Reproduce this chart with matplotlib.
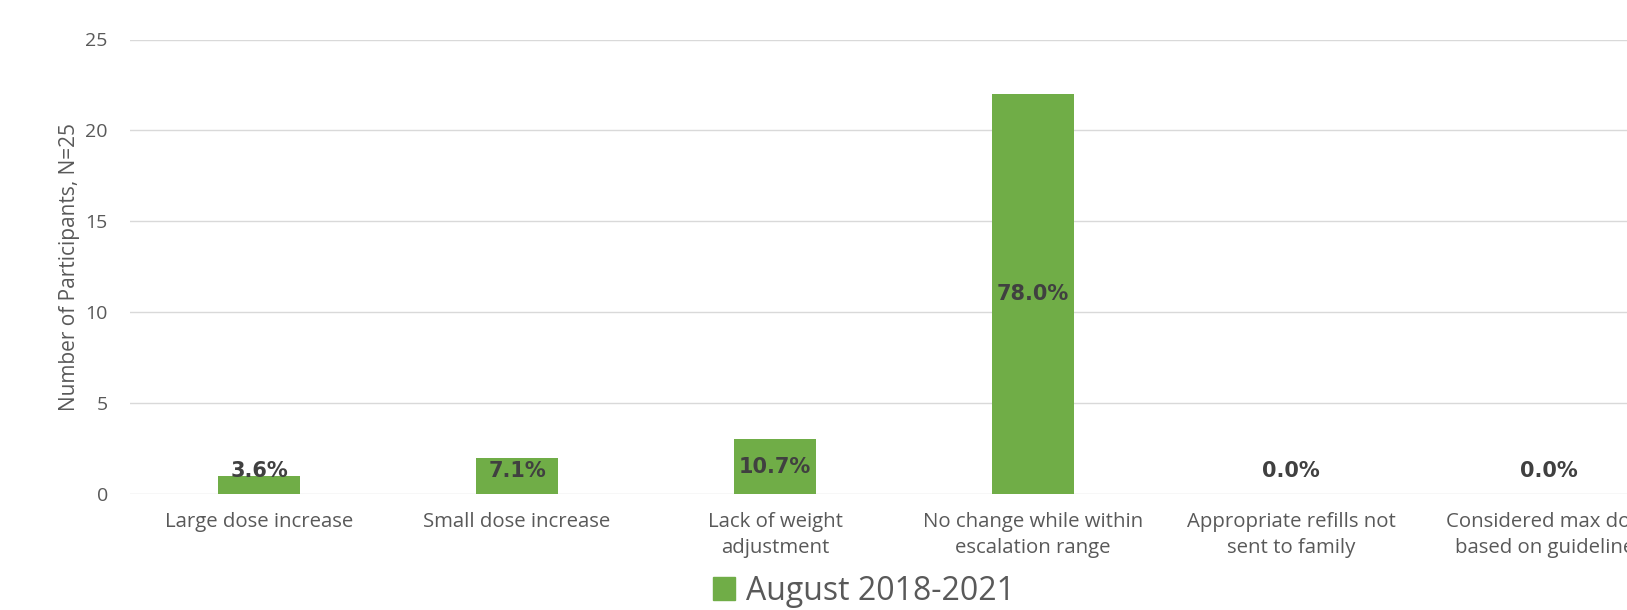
import numpy as np
import matplotlib.pyplot as plt
from matplotlib.patches import Patch

categories = ['Large dose increase', 'Small dose increase', 'Lack of weight\nadjustment',
              'No change while within\nescalation range', 'Appropriate refills not\nsent to family',
              'Considered max dose\nbased on guidelines']
counts = [1, 2, 3, 22, 0, 0]
pct_labels = ['3.6%', '7.1%', '10.7%', '78.0%', '0.0%', '0.0%']
series_name = 'August 2018-2021'

plt.rcParams['font.family'] = ['Open Sans', 'DejaVu Sans']

green = '#70AD47'
text_col = '#595959'

fig = plt.figure(figsize=(16.27, 6.10), dpi=100)
# plot area runs past the right edge, as in the cropped original
ax = fig.add_axes([130 / 1627, 1 - 494 / 610, 1548 / 1627, (494 - 39.5) / 610])

x = np.arange(len(categories))
ax.bar(x, counts, width=0.315, color=green, zorder=3)

for xi, v, lab in zip(x, counts, pct_labels):
    ax.text(xi, max(v / 2, 1.27), lab, ha='center', va='center', family='DejaVu Sans',
            fontsize=15, fontweight='bold', color='#404040', zorder=4)

ax.set_xlim(-0.5, len(categories) - 0.5)
ax.set_ylim(0, 25)
ax.set_yticks(range(0, 26, 5))
ax.set_xticks(x)
ax.set_xticklabels(categories, fontsize=14.7, color=text_col, linespacing=1.42)
ax.tick_params(axis='y', labelsize=14, labelcolor=text_col, length=0, pad=16)
ax.tick_params(axis='x', length=0, pad=13)
ax.yaxis.grid(True, color='#D9D9D9', linewidth=1, zorder=0)
for s in ax.spines.values():
    s.set_visible(False)
ax.set_ylabel('Number of Participants, N=25', fontsize=15, color=text_col, labelpad=4)

fig.legend(handles=[Patch(color=green, label=series_name)], loc='center',
           bbox_to_anchor=(864 / 1627, 1 - 591 / 610), frameon=False, fontsize=23,
           handlelength=0.7, handleheight=0.7, handletextpad=0.35, labelcolor=text_col,
           borderaxespad=0, borderpad=0.1)

fig.savefig('out.png', dpi=100)
